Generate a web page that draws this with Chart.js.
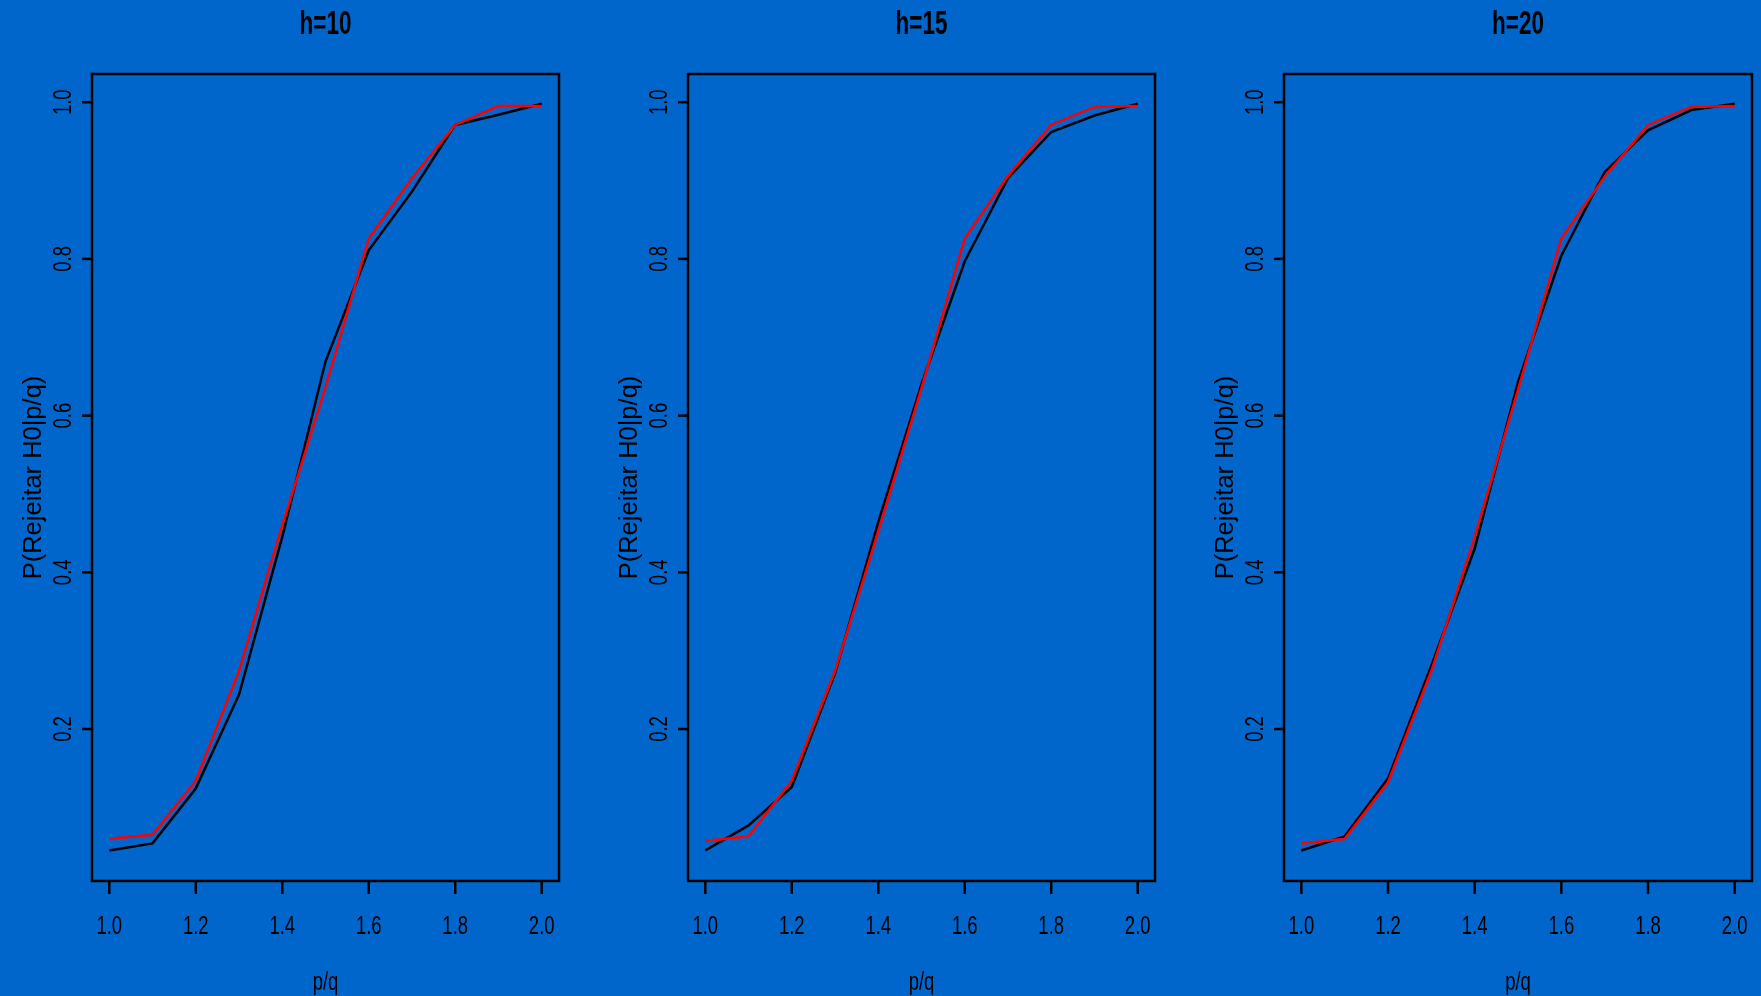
<!DOCTYPE html>
<html>
<head>
<meta charset="utf-8">
<script src="https://cdn.jsdelivr.net/npm/chart.js@4.4.1/dist/chart.umd.min.js"></script>
<style>
  html, body { margin: 0; padding: 0; background: #0066cc; overflow: hidden; }
  #wrap { position: relative; width: 1761px; height: 996px; }
  canvas { position: absolute; top: 0; }
</style>
</head>
<body>
<div id="wrap">
  <canvas id="c10" width="596" height="996" style="left:0px"></canvas>
  <canvas id="c15" width="596" height="996" style="left:596px"></canvas>
  <canvas id="c20" width="569" height="996" style="left:1192px"></canvas>
</div>
<script>
// p/q values on the x axis
const ratios = [1.0, 1.1, 1.2, 1.3, 1.4, 1.5, 1.6, 1.7, 1.8, 1.9, 2.0];

// power curves, black = simulated, red = theoretical
const black10 = [0.045, 0.054, 0.124, 0.244, 0.445, 0.669, 0.811, 0.886, 0.971, 0.984, 0.998];
const red10   = [0.060, 0.065, 0.134, 0.274, 0.460, 0.636, 0.826, 0.903, 0.971, 0.995, 0.995];
const black15 = [0.045, 0.077, 0.126, 0.271, 0.464, 0.640, 0.797, 0.903, 0.962, 0.983, 0.998];
const red15   = [0.057, 0.063, 0.134, 0.274, 0.452, 0.635, 0.826, 0.906, 0.971, 0.994, 0.995];
const black20 = [0.045, 0.063, 0.137, 0.281, 0.430, 0.643, 0.804, 0.911, 0.964, 0.990, 0.998];
const red20   = [0.054, 0.060, 0.132, 0.274, 0.445, 0.633, 0.826, 0.905, 0.971, 0.994, 0.995];

const titles = ['h=10', 'h=15', 'h=20'];
const xTicks = [1.0, 1.2, 1.4, 1.6, 1.8, 2.0];
const yTicks = [0.2, 0.4, 0.6, 0.8, 1.0];
const xLabel = 'p/q';
const yLabel = 'P(Rejeitar H0|p/q)';

const FONT = '"Liberation Sans", Arial, sans-serif';

function toPoints(values) {
    return ratios.map((r, i) => ({ x: r, y: values[i] }));
}

// condensed text: the reference uses a narrow Helvetica
function narrowText(ctx, text, x, y, rot, font, sx) {
    ctx.save();
    ctx.translate(x, y);
    if (rot) ctx.rotate(rot);
    ctx.scale(sx, 1);
    ctx.font = font;
    ctx.textAlign = 'center';
    ctx.textBaseline = 'middle';
    ctx.fillText(text, 0, 0);
    ctx.restore();
}

// R style box, ticks and labels, placed with the chart's own scales
const rAxes = {
    id: 'rAxes',
    afterDraw(chart, args, opts) {
        const ctx = chart.ctx;
        const area = chart.chartArea;
        const xs = chart.scales.x;
        const ys = chart.scales.y;
        const labelFont = '25px ' + FONT;
        ctx.save();
        ctx.strokeStyle = '#000';
        ctx.fillStyle = '#000';
        ctx.lineWidth = 2.5;
        ctx.strokeRect(area.left, area.top, area.right - area.left, area.bottom - area.top);

        xTicks.forEach(v => {
            const px = xs.getPixelForValue(v);
            ctx.beginPath();
            ctx.moveTo(px, area.bottom);
            ctx.lineTo(px, area.bottom + 13);
            ctx.stroke();
            narrowText(ctx, v.toFixed(1), px, area.bottom + 46, 0, labelFont, 0.74);
        });
        yTicks.forEach(v => {
            const py = ys.getPixelForValue(v);
            ctx.beginPath();
            ctx.moveTo(area.left - 10, py);
            ctx.lineTo(area.left, py);
            ctx.stroke();
            narrowText(ctx, v.toFixed(1), area.left - 28, py, -Math.PI / 2, labelFont, 0.74);
        });

        const cx = (area.left + area.right) / 2;
        const cy = (area.top + area.bottom) / 2;
        narrowText(ctx, xLabel, cx, area.bottom + 102, 0, labelFont, 0.74);
        narrowText(ctx, yLabel, area.left - 58, cy, -Math.PI / 2, '25px ' + FONT, 1.02);
        narrowText(ctx, opts.title, cx, 25, 0, 'bold 34px ' + FONT, 0.66);
        ctx.restore();
    }
};

function makeChart(id, title, blackVals, redVals, padRight) {
    const ctx = document.getElementById(id).getContext('2d');
    return new Chart(ctx, {
        type: 'line',
        data: {
            datasets: [{
                data: toPoints(redVals),
                borderColor: '#ff0000',
                borderWidth: 2.5,
                pointRadius: 0,
                tension: 0,
                order: 0
            }, {
                data: toPoints(blackVals),
                borderColor: '#000000',
                borderWidth: 2.5,
                pointRadius: 0,
                tension: 0,
                order: 1
            }]
        },
        options: {
            responsive: false,
            animation: false,
            layout: {
                padding: { left: 92, right: padRight, top: 74, bottom: 115 }
            },
            scales: {
                x: { type: 'linear', min: 0.96, max: 2.04, display: false },
                y: { type: 'linear', min: 0.006, max: 1.036, display: false }
            },
            plugins: {
                legend: { display: false },
                tooltip: { enabled: false },
                rAxes: { title: title }
            }
        },
        plugins: [rAxes]
    });
}

makeChart('c10', titles[0], black10, red10, 37);
makeChart('c15', titles[1], black15, red15, 37);
makeChart('c20', titles[2], black20, red20, 9);
</script>
</body>
</html>
